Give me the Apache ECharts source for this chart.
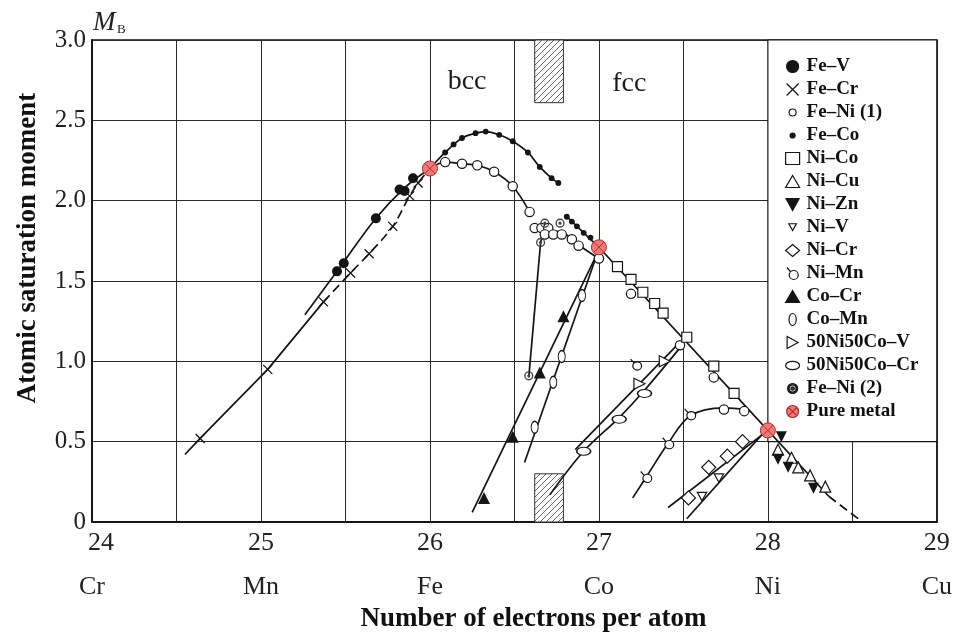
<!DOCTYPE html>
<html><head><meta charset="utf-8">
<script src="https://cdn.jsdelivr.net/npm/echarts@6/dist/echarts.min.js"></script>
<style>html,body{margin:0;padding:0;background:#fff}#c{width:955px;height:639px}</style>
</head><body><div id="c"></div>
<script>
// ---------- axes ----------
const xTickValues = [24, 25, 26, 27, 28, 29];
const elementLabels = ['Cr', 'Mn', 'Fe', 'Co', 'Ni', 'Cu'];
const yTickLabels = ['0', '0.5', '1.0', '1.5', '2.0', '2.5', '3.0'];

// ---------- curves (solid black lines) ----------
const lineFeCrSolid = [[24.55,0.42],[24.64,0.52],[25.04,0.95],[25.37,1.37]];
const lineFeCrDashed = [[25.37,1.37],[25.53,1.55],[25.64,1.67],[25.78,1.84],[25.88,2.03],[25.93,2.11],[26.0,2.2]];
const lineFeV = [[25.26,1.29],[25.45,1.56],[25.68,1.89],[25.85,2.08],[26.0,2.2]];
const lineFeCoBcc = [[26.0,2.2],[26.09,2.30],[26.19,2.39],[26.27,2.42],[26.33,2.43],[26.41,2.41],[26.49,2.37],[26.58,2.30],[26.65,2.21],[26.72,2.14],[26.76,2.11]];
const lineFeNiBcc = [[26.0,2.2],[26.09,2.24],[26.19,2.23],[26.28,2.22],[26.38,2.18],[26.49,2.09],[26.59,1.93]];
const lineFeNi2 = [[26.585,0.90],[26.655,1.74]];
const lineFeNiFcc = [[26.655,1.74],[26.68,1.80],[26.74,1.81],[26.82,1.78],[26.90,1.71],[27.0,1.64]];
const lineFeCoFcc = [[26.81,1.90],[27.0,1.71]];
const lineCoNi = [[27.0,1.71],[28.0,0.57],[28.36,0.16]];
const lineNiDashed = [[28.36,0.16],[28.56,0]];
const lineCoCr = [[26.25,0.06],[26.99,1.67]];
const lineCoMn = [[26.56,0.37],[26.99,1.67]];
const line5050V = [[26.86,0.45],[27.48,1.12]];
const line5050Cr = [[26.71,0.17],[26.91,0.44],[27.12,0.65],[27.27,0.82],[27.50,1.11]];
const lineNiMn = [[27.20,0.15],[27.28,0.28],[27.41,0.49],[27.54,0.66],[27.74,0.71],[27.88,0.70]];
const lineNiCr = [[27.41,0.09],[28.0,0.57]];
const lineNiV = [[27.52,0.02],[27.97,0.55]];

// ---------- measured points ----------
const ptsFeV = [[25.45,1.56],[25.49,1.61],[25.68,1.89],[25.82,2.07],[25.85,2.06],[25.90,2.14]];
const ptsFeCr = [[24.64,0.52],[25.04,0.95],[25.37,1.37],[25.53,1.55],[25.64,1.67],[25.78,1.84],[25.88,2.03],[25.93,2.11]];
const ptsFeNi1 = [[26.09,2.24],[26.19,2.23],[26.28,2.22],[26.38,2.18],[26.49,2.09],[26.59,1.93],[26.62,1.83],[26.66,1.83],[26.70,1.83],[26.68,1.79],[26.73,1.79],[26.78,1.79],[26.84,1.76],[26.88,1.72],[27.0,1.64],[27.19,1.42],[27.48,1.10],[27.68,0.90],[27.74,0.70],[27.86,0.69]];
const ptsFeCo = [[26.09,2.30],[26.14,2.35],[26.19,2.39],[26.27,2.42],[26.33,2.43],[26.41,2.41],[26.49,2.37],[26.58,2.30],[26.65,2.21],[26.72,2.14],[26.76,2.11],[26.81,1.90],[26.84,1.87],[26.87,1.84],[26.91,1.80],[26.95,1.77]];
const ptsNiCo = [[27.11,1.59],[27.19,1.51],[27.26,1.43],[27.33,1.36],[27.38,1.30],[27.52,1.15],[27.68,0.97],[27.80,0.80]];
const ptsNiCu = [[28.06,0.45],[28.14,0.40],[28.18,0.34],[28.25,0.29],[28.34,0.22]];
const ptsNiZn = [[28.08,0.53],[28.06,0.39],[28.12,0.34],[28.27,0.21]];
const ptsNiV = [[27.61,0.155],[27.71,0.27]];
const ptsNiCr = [[27.53,0.15],[27.65,0.34],[27.76,0.41],[27.85,0.50]];
const ptsNiMn = [[27.22,0.98],[27.28,0.28],[27.41,0.49],[27.54,0.67]];
const ptsCoCr = [[26.32,0.15],[26.49,0.53],[26.65,0.93],[26.79,1.28]];
const ptsCoMn = [[26.62,0.59],[26.73,0.87],[26.78,1.03],[26.90,1.41]];
const pts5050V = [[27.24,0.86],[27.39,1.00]];
const pts5050Cr = [[26.91,0.44],[27.12,0.64],[27.27,0.80]];
const ptsFeNi2 = [[26.585,0.91],[26.655,1.74],[26.68,1.86],[26.77,1.86]];
const ptsPure = [[26.0,2.2],[27.0,1.71],[28.0,0.57]];

// ---------- regions / annotations ----------
const hatchX = [26.62, 26.79];
const hatchTopY = [2.61, 3.0];
const hatchBottomY = [0, 0.30];
const legendBoxX = [28, 29];
const legendBoxY = [0.5, 3.0];
const phaseNames = ['bcc', 'fcc'];
const phaseX = [26.22, 27.18];
const phaseY = [2.74, 2.73];

const SERIF = 'Liberation Serif';
const INK = '#151515';

// symbols (leading moveTo pairs pad the box so the drawn shape is smaller in the legend)
const S_SMALLCIRCLE = 'path://M0,0M24,24M5,12A7,7,0,1,1,19,12A7,7,0,1,1,5,12Z';
const S_DOT = 'path://M0,0M24,24M7,12A5,5,0,1,1,17,12A5,5,0,1,1,7,12Z';
const S_VOVAL = 'path://M0,10A6,10,0,1,1,12,10A6,10,0,1,1,0,10Z';
const S_HOVAL = 'path://M0,6A10,6,0,1,1,20,6A10,6,0,1,1,0,6Z';
const S_CROSS = 'path://M0,0L10,10M10,0L0,10';
const S_DOWN = 'path://M0,0L12,0L6,11Z';
const S_SMALLDOWN = 'path://M0,0M16,16M3,3L13,3L8,12Z';
const S_RIGHT = 'path://M0,0L11,6L0,12Z';
const S_TAIL = 'path://M4,11A6,6,0,1,1,16,11A6,6,0,1,1,4,11ZM6,7L1,1';
const S_RING = 'path://M0,0M24,24M2,12A10,10,0,1,1,22,12A10,10,0,1,1,2,12ZM5,12A7,7,0,1,0,19,12A7,7,0,1,0,5,12ZM8.5,12A3.5,3.5,0,1,1,15.5,12A3.5,3.5,0,1,1,8.5,12Z';
const S_PURE = 'path://M0,10A10,10,0,1,1,20,10A10,10,0,1,1,0,10ZM3,3L17,17M17,3L3,17';

// hatch pattern
const hc = document.createElement('canvas');
hc.width = 6; hc.height = 6;
const hx = hc.getContext('2d');
hx.fillStyle = '#fff'; hx.fillRect(0, 0, 6, 6);
hx.strokeStyle = '#555'; hx.lineWidth = 0.9;
hx.beginPath();
hx.moveTo(-1, 7); hx.lineTo(7, -1);
hx.moveTo(-4, 4); hx.lineTo(4, -4);
hx.moveTo(2, 10); hx.lineTo(10, 2);
hx.stroke();
const hatchPattern = { image: hc, repeat: 'repeat' };

function curve(data, smooth, dashed) {
  return {
    type: 'line', data: data, smooth: smooth ? 0.35 : false, symbol: 'none', z: 2,
    silent: true, animation: false,
    lineStyle: { color: INK, width: 1.7, type: dashed ? [9, 5] : 'solid' }
  };
}
function marks(name, data, symbol, size, fill, bw) {
  return {
    type: 'scatter', name: name, data: data, symbol: symbol, symbolSize: size, z: 4,
    animation: false,
    itemStyle: { color: fill, borderColor: INK, borderWidth: bw, opacity: 1 }
  };
}

const legendNames = ['Fe\u2013V', 'Fe\u2013Cr', 'Fe\u2013Ni (1)', 'Fe\u2013Co', 'Ni\u2013Co', 'Ni\u2013Cu', 'Ni\u2013Zn', 'Ni\u2013V', 'Ni\u2013Cr', 'Ni\u2013Mn', 'Co\u2013Cr', 'Co\u2013Mn', '50Ni50Co\u2013V', '50Ni50Co\u2013Cr', 'Fe\u2013Ni (2)', 'Pure metal'];

const series = [
  {
    type: 'line', data: [], z: 1, silent: true, animation: false,
    markArea: {
      silent: true,
      data: [
        [{ coord: [legendBoxX[0], legendBoxY[0]], itemStyle: { color: '#fff', borderColor: INK, borderWidth: 1.2 } }, { coord: [legendBoxX[1], legendBoxY[1]] }],
        [{ coord: [hatchX[0], hatchTopY[0]], itemStyle: { color: hatchPattern, borderColor: '#333', borderWidth: 1 } }, { coord: [hatchX[1], hatchTopY[1]] }],
        [{ coord: [hatchX[0], hatchBottomY[0]], itemStyle: { color: hatchPattern, borderColor: '#333', borderWidth: 1 } }, { coord: [hatchX[1], hatchBottomY[1]] }]
      ]
    }
  },
  curve(lineFeCrSolid, false), curve(lineFeCrDashed, true, true), curve(lineFeV, true),
  curve(lineFeCoBcc, true), curve(lineFeNiBcc, true), curve(lineFeNi2, false),
  curve(lineFeNiFcc, true), curve(lineFeCoFcc, false), curve(lineCoNi, false),
  curve(lineNiDashed, false, true), curve(lineCoCr, false), curve(lineCoMn, false),
  curve(line5050V, false), curve(line5050Cr, true), curve(lineNiMn, true),
  curve(lineNiCr, false), curve(lineNiV, false),
  marks(legendNames[0], ptsFeV, 'circle', 10, INK, 0),
  marks(legendNames[1], ptsFeCr, S_CROSS, 9, 'rgba(0,0,0,0)', 1.3),
  marks(legendNames[2], ptsFeNi1, S_SMALLCIRCLE, 16, '#fff', 1.2),
  marks(legendNames[3], ptsFeCo, S_DOT, 14, INK, 0),
  marks(legendNames[4], ptsNiCo, 'rect', 10, '#fff', 1.2),
  marks(legendNames[5], ptsNiCu, 'triangle', 11, '#fff', 1.2),
  marks(legendNames[6], ptsNiZn, S_DOWN, 11, INK, 0),
  marks(legendNames[7], ptsNiV, S_SMALLDOWN, 15, '#fff', 1.2),
  marks(legendNames[8], ptsNiCr, 'diamond', 14, '#fff', 1.2),
  marks(legendNames[9], ptsNiMn, S_TAIL, 11, '#fff', 1.2),
  marks(legendNames[10], ptsCoCr, 'triangle', 12, INK, 0),
  marks(legendNames[11], ptsCoMn, S_VOVAL, [7, 12], '#fff', 1.2),
  marks(legendNames[12], pts5050V, S_RIGHT, 11, '#fff', 1.2),
  marks(legendNames[13], pts5050Cr, S_HOVAL, [14, 8], '#fff', 1.2),
  marks(legendNames[14], ptsFeNi2, S_RING, 11, '#444', 0),
  {
    type: 'scatter', name: legendNames[15], data: ptsPure, symbol: S_PURE, symbolSize: 15, z: 5,
    animation: false,
    itemStyle: { color: '#f07a7a', borderColor: '#b22a2a', borderWidth: 1, opacity: 1 }
  },
  {
    type: 'scatter', data: phaseNames.map((n, i) => ({ name: n, value: [phaseX[i], phaseY[i]] })),
    symbolSize: 1, itemStyle: { color: 'rgba(0,0,0,0)', opacity: 1 }, silent: true, z: 3, animation: false,
    label: { show: true, position: 'inside', formatter: p => p.name, fontFamily: SERIF, fontSize: 28, color: '#1a1a1a', opacity: 1 }
  }
];

const chart = echarts.init(document.getElementById('c'), null, { renderer: 'canvas' });
chart.setOption({
  animation: false,
  backgroundColor: '#fff',
  grid: { left: 92, right: 15, top: 40, bottom: 117, show: true, borderColor: INK, borderWidth: 1.5, backgroundColor: 'transparent' },
  xAxis: [
    {
      type: 'value', min: 24, max: 29, interval: 0.5,
      axisLine: { show: true, lineStyle: { color: INK, width: 1.8 } },
      axisTick: { show: false },
      splitLine: { show: true, lineStyle: { color: '#2a2a2a', width: 1 } },
      axisLabel: {
        margin: 8, fontFamily: SERIF, fontSize: 26, color: '#222',
        formatter: v => {
          const i = xTickValues.indexOf(v);
          if (i < 0) return '';
          return i === 0 ? '{a|' + v + '}' : String(v);
        },
        rich: { a: { fontFamily: SERIF, fontSize: 26, color: '#222', padding: [0, 0, 0, 18] } }
      }
    },
    {
      type: 'value', min: 24, max: 29, interval: 1, position: 'bottom', offset: 44,
      axisLine: { show: false }, axisTick: { show: false }, splitLine: { show: false },
      axisLabel: {
        margin: 8, fontFamily: SERIF, fontSize: 26, color: '#222',
        formatter: v => { const i = xTickValues.indexOf(v); return i < 0 ? '' : elementLabels[i]; }
      },
      name: 'Number of electrons per atom', nameLocation: 'middle', nameGap: 40,
      nameTextStyle: { fontFamily: SERIF, fontSize: 27, color: '#111', fontWeight: 'bold', padding: [0, 0, 0, 38] }
    }
  ],
  yAxis: {
    type: 'value', min: 0, max: 3, interval: 0.5,
    axisLine: { show: true, lineStyle: { color: INK, width: 1.8 } },
    axisTick: { show: false },
    splitLine: { show: true, lineStyle: { color: '#2a2a2a', width: 1 } },
    axisLabel: {
      margin: 6, fontFamily: SERIF, fontSize: 25, color: '#222',
      formatter: v => yTickLabels[Math.round(v * 2)]
    },
    name: 'Atomic saturation moment', nameLocation: 'middle', nameGap: 50, nameRotate: 90,
    nameTextStyle: { fontFamily: SERIF, fontSize: 27, color: '#111', fontWeight: 'bold', padding: [0, 0, 0, 66] }
  },
  legend: {
    data: legendNames, orient: 'vertical', left: 780, top: 52,
    itemWidth: 14, itemHeight: 12, itemGap: 4,
    selectedMode: false,
    itemStyle: { borderWidth: 1.2 },
    textStyle: { fontFamily: SERIF, fontSize: 19, fontWeight: 'bold', color: '#111', padding: [0, 0, 0, 2] }
  },
  graphic: [
    { type: 'text', left: 93, top: 9, style: { text: 'M', fontFamily: SERIF, fontStyle: 'italic', fontSize: 27, fill: '#222' } },
    { type: 'text', left: 117, top: 23, style: { text: 'B', fontFamily: SERIF, fontSize: 13, fill: '#222' } }
  ],
  series: series
});
</script>
</body></html>
